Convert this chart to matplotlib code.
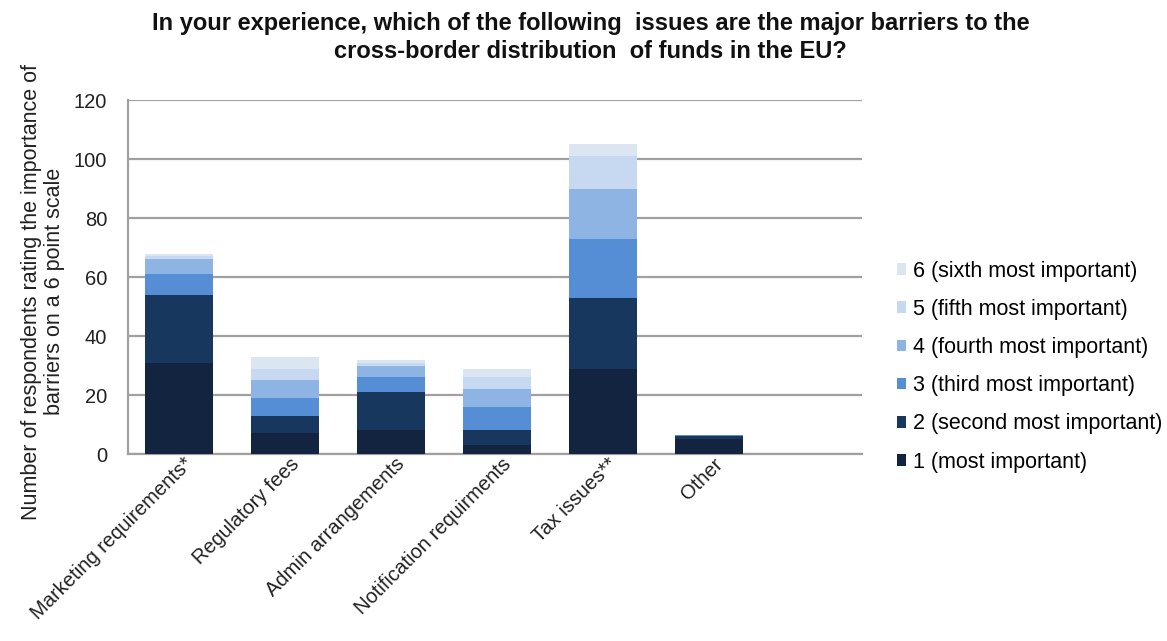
import matplotlib.pyplot as plt
import matplotlib.transforms as mtransforms
import numpy as np

plt.rcParams['font.family'] = ['Liberation Sans', 'DejaVu Sans']

# Categories (the 7th Excel slot is left empty)
categories = ['Marketing requirements*', 'Regulatory fees', 'Admin arrangements',
              'Notification requirments', 'Tax issues**', 'Other']

# Respondents per rank, one list per rank
rank1 = [31, 7, 8, 3, 29, 5]
rank2 = [23, 6, 13, 5, 24, 1]
rank3 = [7, 6, 5, 8, 20, 0.5]
rank4 = [5, 6, 4, 6, 17, 0]
rank5 = [1, 4, 1, 4, 11, 0]
rank6 = [1, 4, 1, 3, 4, 0]

rank_labels = ['1 (most important)', '2 (second most important)', '3 (third most important)',
               '4 (fourth most important)', '5 (fifth most important)', '6 (sixth most important)']
colors = ['#12243f', '#17375e', '#558ed5', '#8eb4e3', '#c6d9f1', '#dce6f2']

fig = plt.figure(figsize=(11.67, 6.41), dpi=100)
ax = fig.add_axes([0.1097, 0.2917, 0.629, 0.552])

x = np.arange(len(categories))
bottom = np.zeros(len(categories))
handles = []
for vals, col, lab in zip([rank1, rank2, rank3, rank4, rank5, rank6], colors, rank_labels):
    b = ax.bar(x, vals, 0.64, bottom=bottom, color=col, label=lab, zorder=3)
    handles.append(b)
    bottom += np.array(vals)

ax.set_xlim(-0.48, 6.445)
ax.set_ylim(0, 120)
ax.set_yticks(range(0, 121, 20))
ax.yaxis.grid(True, color='#a0a0a0', linewidth=1.6, zorder=0)
ax.set_axisbelow(True)
for side in ['top', 'right']:
    ax.spines[side].set_visible(False)
for side in ['left', 'bottom']:
    ax.spines[side].set_color('#a0a0a0')
    ax.spines[side].set_linewidth(1.6)
ax.tick_params(axis='y', length=0, labelsize=14.5, colors='#222222', pad=15)
ax.tick_params(axis='x', length=0, colors='#222222', pad=5)
ax.set_xticks(x)
ax.set_xticklabels(categories, rotation=45, ha='right', va='center',
                   rotation_mode='anchor', fontsize=14.5)
# nudge rotated labels to the right like Excel does
offset = mtransforms.ScaledTranslation(0.11, 0, fig.dpi_scale_trans)
for lbl in ax.get_xticklabels():
    lbl.set_transform(lbl.get_transform() + offset)

fig.text(0.506, 0.982, 'In your experience, which of the following  issues are the major barriers to the\n'
         'cross-border distribution  of funds in the EU?',
         ha='center', va='top', fontsize=17, fontweight='bold', linespacing=1.3, color='#111111')

fig.text(0.037, 0.545, 'Number of respondents rating the importance of\nbarriers on a 6 point scale',
         rotation=90, ha='center', va='center', fontsize=15.5, linespacing=1.1, color='#222222')

fig.legend(handles[::-1], rank_labels[::-1], loc='upper left', bbox_to_anchor=(0.761, 0.607),
           frameon=False, fontsize=15.5, handlelength=0.45, handleheight=0.45,
           handletextpad=0.3, labelspacing=0.8, borderaxespad=0)

fig.savefig('out.png', dpi=100)
